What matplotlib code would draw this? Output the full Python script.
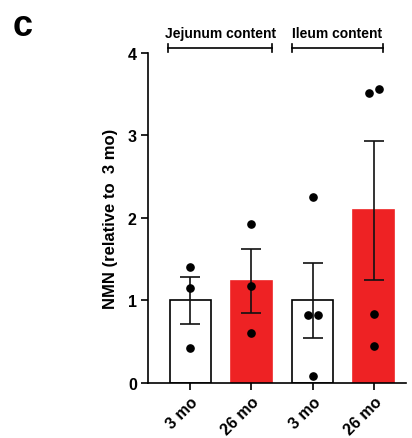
import matplotlib
matplotlib.use('Agg')
import matplotlib.pyplot as plt
import numpy as np

plt.rcParams['font.family'] = ['Liberation Sans', 'DejaVu Sans']
plt.rcParams['font.weight'] = 'bold'

# data
groups = ['3 mo', '26 mo', '3 mo', '26 mo']
means = [1.00, 1.24, 1.00, 2.10]
err_lo = [0.29, 0.39, 0.46, 0.85]
err_hi = [0.29, 0.38, 0.45, 0.83]
points = [
    [1.40, 1.15, 0.43],
    [1.93, 1.17, 0.61],
    [2.25, 0.82, 0.82, 0.09],
    [3.52, 3.56, 0.84, 0.45],
]
offsets = [
    [0, 0, 0],
    [0, 0, 0],
    [0, -0.08, 0.08, 0],
    [-0.08, 0.08, 0, 0],
]
bar_colors = ['white', '#EE2224', 'white', '#EE2224']
edge_colors = ['black', '#EE2224', 'black', '#EE2224']
sections = ['Jejunum content', 'Ileum content']
section_span = [(-0.36, 1.34), (1.66, 3.15)]

fig = plt.figure(figsize=(4.12, 4.39), dpi=100)
ax = fig.add_axes([0.359, 0.1253, 0.626, 0.7517])

x = np.arange(len(groups))
ax.bar(x, means, width=0.67, color=bar_colors, edgecolor=edge_colors,
       linewidth=1.2, zorder=1)
ax.errorbar(x, means, yerr=[err_lo, err_hi], fmt='none', ecolor='#111111',
            elinewidth=1.2, capsize=7.5, capthick=1.2, zorder=3)
for i, pts in enumerate(points):
    ax.plot(x[i] + np.array(offsets[i]), pts, 'o', color='black',
            markersize=5.2, zorder=4, clip_on=False)

ax.set_xlim(-0.69, 3.52)
ax.set_ylim(0, 4)
ax.set_yticks([0, 1, 2, 3, 4])
ax.set_xticks(x)
ax.set_xticklabels(groups, rotation=45, ha='right', rotation_mode='anchor')
ax.tick_params(axis='both', labelsize=11.5, width=1.2, length=5, pad=3)
for lab in ax.get_xticklabels() + ax.get_yticklabels():
    lab.set_fontweight('bold')
ax.set_ylabel('NMN (relative to  3 mo)', fontsize=12, fontweight='bold',
              labelpad=7)
ax.spines['top'].set_visible(False)
ax.spines['right'].set_visible(False)
ax.spines['left'].set_linewidth(1.2)
ax.spines['bottom'].set_linewidth(1.2)

# section brackets above the bars
for name, (a, b) in zip(sections, section_span):
    yb = 4.06
    ax.plot([a, b], [yb, yb], color='black', lw=1.2, clip_on=False)
    ax.plot([a, a], [yb - 0.05, yb + 0.05], color='black', lw=1.2, clip_on=False)
    ax.plot([b, b], [yb - 0.05, yb + 0.05], color='black', lw=1.2, clip_on=False)
    ax.text((a + b) / 2, yb + 0.1, name, ha='center', va='bottom',
            fontsize=10, fontweight='bold')

fig.text(0.03, 0.98, 'c', fontsize=26, fontweight='bold', va='top')

plt.savefig('out.png', dpi=100)
